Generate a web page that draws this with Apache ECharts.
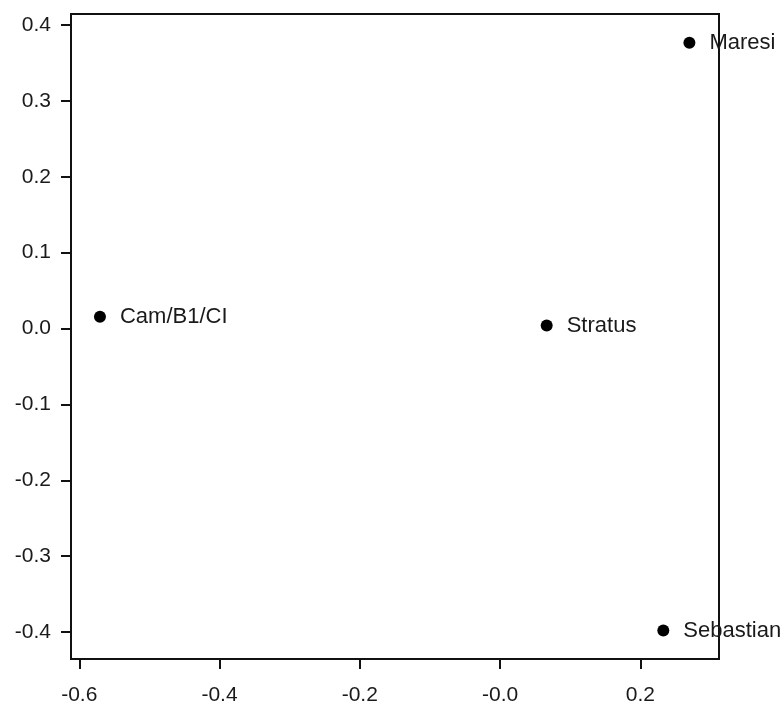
<!DOCTYPE html>
<html>
<head>
<meta charset="utf-8">
<script src="https://cdn.jsdelivr.net/npm/echarts@6/dist/echarts.min.js"></script>
<style>
  html, body { margin: 0; padding: 0; background: #fff; }
  #chart { width: 784px; height: 706px; }
</style>
</head>
<body>
<div id="chart"></div>
<script>
const names = ['Maresi', 'Cam/B1/CI', 'Stratus', 'Sebastian'];
const xValues = [0.270, -0.5705, 0.0665, 0.2328];
const yValues = [0.3767, 0.0154, 0.004, -0.398];
const xTicks = [-0.6, -0.4, -0.2, 0, 0.2];
const yTicks = [-0.4, -0.3, -0.2, -0.1, 0, 0.1, 0.2, 0.3, 0.4];

const chart = echarts.init(document.getElementById('chart'));

const font = 'Liberation Sans, Arial, sans-serif';

const option = {
    animation: false,
    grid: {
        left: 71, top: 14, right: 65, bottom: 46,
        show: true,
        borderColor: '#111',
        borderWidth: 2
    },
    xAxis: {
        type: 'value',
        min: -0.6118,
        max: 0.3122,
        splitLine: { show: false },
        axisLine: { show: true, onZero: false, lineStyle: { color: '#111', width: 2 } },
        axisTick: { show: true, length: 10, lineStyle: { color: '#111', width: 2 }, customValues: xTicks },
        axisLabel: {
            color: '#1a1a1a', fontSize: 21, fontFamily: font,
            margin: 26,
            customValues: xTicks,
            formatter: v => (Math.abs(v) < 1e-9 ? '-0.0' : v.toFixed(1))
        }
    },
    yAxis: {
        type: 'value',
        min: -0.4355,
        max: 0.4145,
        splitLine: { show: false },
        axisLine: { show: true, onZero: false, lineStyle: { color: '#111', width: 2 } },
        axisTick: { show: true, length: 10, lineStyle: { color: '#111', width: 2 }, customValues: yTicks },
        axisLabel: {
            color: '#1a1a1a', fontSize: 21, fontFamily: font,
            margin: 20,
            customValues: yTicks,
            formatter: v => (Math.abs(v) < 1e-9 ? '0.0' : v.toFixed(1))
        }
    },
    series: [
        {
            type: 'scatter',
            symbolSize: 12,
            itemStyle: { color: '#000', opacity: 1 },
            data: names.map((n, i) => ({ name: n, value: [xValues[i], yValues[i]] })),
            label: {
                show: true,
                position: 'right',
                distance: 14,
                formatter: p => p.name,
                color: '#1a1a1a', fontSize: 22, fontFamily: font
            }
        }
    ]
};

chart.setOption(option);
</script>
</body>
</html>
